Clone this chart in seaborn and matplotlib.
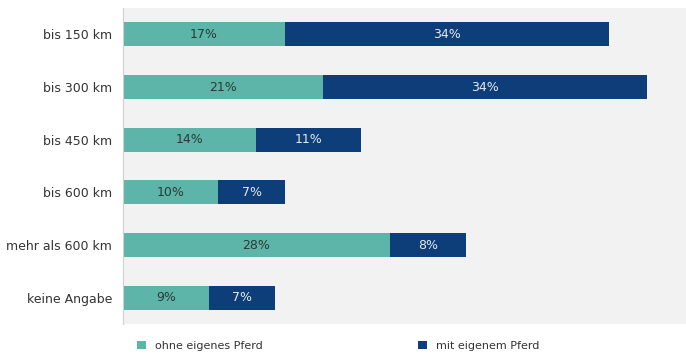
import matplotlib
matplotlib.use("Agg")
import matplotlib.pyplot as plt
from matplotlib.patches import Patch
import seaborn as sns
import pandas as pd

categories = ["bis 150 km", "bis 300 km", "bis 450 km", "bis 600 km",
              "mehr als 600 km", "keine Angabe"]
ohne_pferd = [17, 21, 14, 10, 28, 9]
mit_pferd = [34, 34, 11, 7, 8, 7]
series_names = ["ohne eigenes Pferd", "mit eigenem Pferd"]

teal = "#5cb5a8"
navy = "#0d3e79"

sns.set_theme(style="white")
plt.rcParams["font.family"] = ["DejaVu Sans"]

df = pd.DataFrame({"cat": categories, "ohne": ohne_pferd, "mit": mit_pferd})
df["total"] = df["ohne"] + df["mit"]

fig = plt.figure(figsize=(6.86, 3.55), dpi=100)
ax = fig.add_axes([123 / 686, 31 / 355, 1 - 123 / 686, 316 / 355])
ax.set_facecolor("#f2f2f2")

# stacked bars: full total in navy, teal part drawn over it
sns.barplot(data=df, y="cat", x="total", color=navy, orient="h", width=0.46,
            saturation=1, ax=ax, linewidth=0)
sns.barplot(data=df, y="cat", x="ohne", color=teal, orient="h", width=0.46,
            saturation=1, ax=ax, linewidth=0)

for i, (o, m) in enumerate(zip(ohne_pferd, mit_pferd)):
    ax.text(o / 2, i, f"{o}%", ha="center", va="center", fontsize=9,
            color="#2a3a38")
    ax.text(o + m / 2, i, f"{m}%", ha="center", va="center", fontsize=9,
            color="#e6e9ee")

ax.set_xlim(0, 59.1)
ax.set_ylim(5.5, -0.5)
ax.set_xlabel("")
ax.set_ylabel("")
ax.set_xticks([])
ax.tick_params(axis="y", which="major", length=0, labelsize=9,
               labelcolor="#333333", pad=8)
ax.set_yticks([i - 0.5 for i in range(7)], minor=True)
ax.tick_params(axis="y", which="minor", length=5, color="#d0d0d0", width=0.8)
for s in ["top", "right", "bottom"]:
    ax.spines[s].set_visible(False)
ax.spines["left"].set_color("#d0d0d0")
ax.spines["left"].set_linewidth(0.8)

handles = [Patch(facecolor=teal, edgecolor="none"),
           Patch(facecolor=navy, edgecolor="none")]
fig.legend(handles, series_names, loc="center left",
           bbox_to_anchor=(127 / 686, 1 - 346 / 355), ncol=2, frameon=False,
           fontsize=8, handlelength=0.8, handleheight=0.8, handletextpad=0.8,
           columnspacing=14.0, labelcolor="#333333")

fig.savefig("out.png", dpi=100, facecolor="white")
